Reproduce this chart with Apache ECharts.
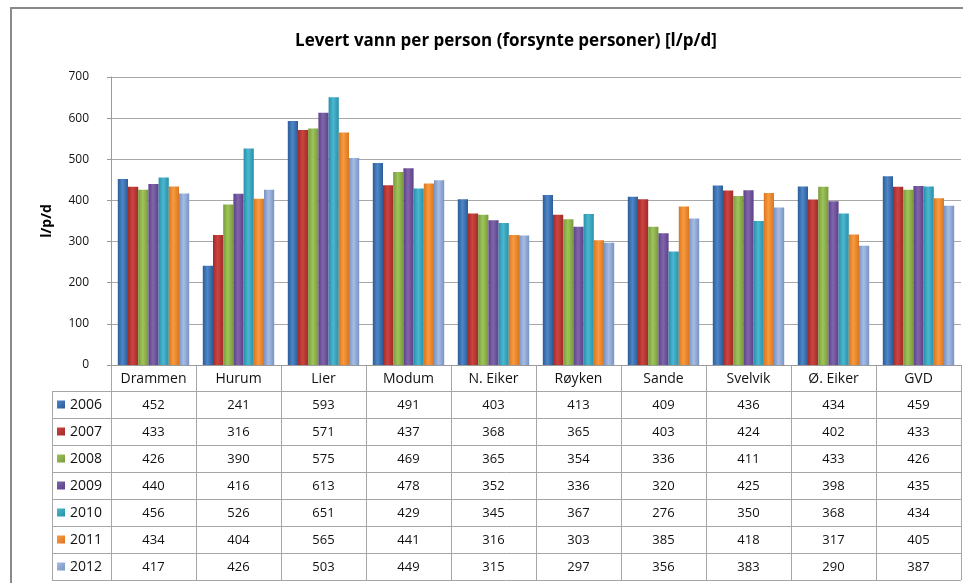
<!DOCTYPE html>
<html>
<head>
<meta charset="utf-8">
<script src="https://cdn.jsdelivr.net/npm/echarts@6/dist/echarts.min.js"></script>
<style>html,body{margin:0;padding:0;background:#fff;}#c{width:974px;height:583px;}</style>
</head>
<body>
<div id="c"></div>
<script>
const categories = ['Drammen','Hurum','Lier','Modum','N. Eiker','Røyken','Sande','Svelvik','Ø. Eiker','GVD'];
const years = ['2006','2007','2008','2009','2010','2011','2012'];
const v2006 = [452,241,593,491,403,413,409,436,434,459];
const v2007 = [433,316,571,437,368,365,403,424,402,433];
const v2008 = [426,390,575,469,365,354,336,411,433,426];
const v2009 = [440,416,613,478,352,336,320,425,398,435];
const v2010 = [456,526,651,429,345,367,276,350,368,434];
const v2011 = [434,404,565,441,316,303,385,418,317,405];
const v2012 = [417,426,503,449,315,297,356,383,290,387];
const yTicks = [0,100,200,300,400,500,600,700];
const seriesValues = [v2006,v2007,v2008,v2009,v2010,v2011,v2012];

const baseColors = ['#2B5C97','#A02B28','#779A3A','#5C4088','#2790AA','#DC7620','#7893C4'];
const lightColors = ['#4E86C8','#CC4440','#9FC45B','#8266AB','#4CB7D0','#F79A40','#A6BCE2'];

const font = '"Open Sans", Lato, sans-serif';
const chart = echarts.init(document.getElementById('c'));

function grad(i){
  return new echarts.graphic.LinearGradient(0,0,1,0,[
    {offset:0,color:baseColors[i]},
    {offset:0.45,color:lightColors[i]},
    {offset:1,color:baseColors[i]}
  ]);
}

const series = years.map((y,i)=>({
  name:y, type:'bar', data:seriesValues[i],
  barGap:'0%', barCategoryGap:'16%',
  itemStyle:{color:grad(i), shadowColor:'rgba(0,0,0,0.25)', shadowBlur:3, shadowOffsetX:1, shadowOffsetY:1},
  emphasis:{disabled:true}
}));

chart.setOption({
  animation:false,
  title:{text:'Levert vann per person (forsynte personer) [l/p/d]', left:501, top:28, textAlign:'center',
    textStyle:{fontFamily:font,fontSize:17,fontWeight:'bold',color:'#000'}},
  grid:{left:111, top:77, right:13, bottom:218},
  xAxis:{type:'category', data:categories,
    axisLine:{show:true,lineStyle:{color:'#9a9a9a'}},
    axisTick:{show:false}, axisLabel:{show:false}},
  yAxis:{type:'value', min:0, max:700, interval:100,
    name:'l/p/d', nameLocation:'middle', nameGap:57, nameRotate:90,
    nameTextStyle:{fontFamily:font,fontSize:14,fontWeight:'bold',color:'#000'},
    axisLine:{show:true,lineStyle:{color:'#9a9a9a'}},
    axisTick:{show:true,length:4,lineStyle:{color:'#9a9a9a'}},
    axisLabel:{fontFamily:font,fontSize:12,color:'#111',margin:22,
      formatter:function(v){return yTicks.indexOf(v)>=0?String(v):'';}},
    splitLine:{lineStyle:{color:'#a8a8a8',width:1}}},
  series:series
});

// data table drawn from the same arrays, positioned by the chart's own scales
const elements = [];
const x0 = chart.convertToPixel({xAxisIndex:0}, categories[0]);
const x1 = chart.convertToPixel({xAxisIndex:0}, categories[1]);
const bw = x1 - x0;
const left = x0 - bw/2;
const right = left + bw*categories.length;
const axisY = chart.convertToPixel({yAxisIndex:0}, 0);
const headH = 26, rowH = 27;
const legL = 52;
const lineStyle = {stroke:'#a6a6a6', lineWidth:1};
const tableBottom = axisY + headH + rowH*years.length;
function hline(xa,xb,y){elements.push({type:'line',shape:{x1:xa,y1:Math.round(y)+0.5,x2:xb,y2:Math.round(y)+0.5},style:lineStyle,silent:true});}
function vline(x,ya,yb){elements.push({type:'line',shape:{x1:Math.round(x)+0.5,y1:ya,x2:Math.round(x)+0.5,y2:yb},style:lineStyle,silent:true});}
for(let r=1;r<=years.length;r++){ hline(legL,right,axisY+headH+rowH*(r-1)); }
hline(legL,right,tableBottom);
vline(legL,axisY+headH,tableBottom);
for(let c=0;c<=categories.length;c++){ vline(left+bw*c,axisY,tableBottom); }
categories.forEach((cat,c)=>{
  const cx = chart.convertToPixel({xAxisIndex:0}, cat);
  elements.push({type:'text',x:cx,y:axisY+headH/2+1,silent:true,
    style:{text:cat,fontFamily:font,fontSize:14,fill:'#111',align:'center',verticalAlign:'middle'}});
  seriesValues.forEach((vals,r)=>{
    elements.push({type:'text',x:cx,y:axisY+headH+rowH*r+rowH/2+1,silent:true,
      style:{text:String(vals[c]),fontFamily:font,fontSize:13,fill:'#111',align:'center',verticalAlign:'middle'}});
  });
});
years.forEach((y,r)=>{
  const cy = axisY+headH+rowH*r+rowH/2;
  elements.push({type:'rect',shape:{x:57,y:cy-4,width:8,height:8},silent:true,
    style:{fill:new echarts.graphic.LinearGradient(0,0,1,1,[{offset:0,color:lightColors[r]},{offset:1,color:baseColors[r]}])}});
  elements.push({type:'text',x:70,y:cy+1,silent:true,
    style:{text:y,fontFamily:font,fontSize:14,fill:'#111',align:'left',verticalAlign:'middle'}});
});
// outer chart-area frame (top and left edges visible in the reference)
elements.push({type:'polyline',shape:{points:[[11,600],[11,8],[963,8]]},silent:true,
  style:{fill:null,stroke:'#8a8a8a',lineWidth:2}});
chart.setOption({graphic:{elements:elements}});
</script>
</body>
</html>
